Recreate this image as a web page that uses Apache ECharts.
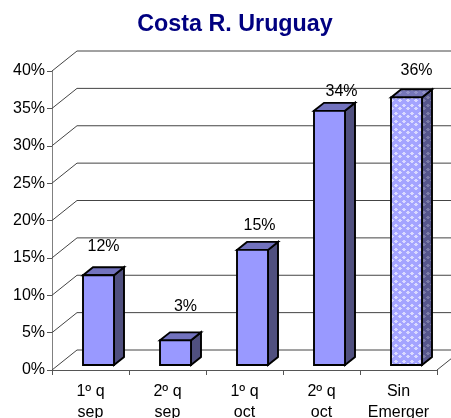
<!DOCTYPE html>
<html>
<head>
<meta charset="utf-8">
<style>html,body{margin:0;padding:0;background:#fff}#c{width:451px;height:418px}</style>
<script src="https://cdn.jsdelivr.net/npm/echarts@6/dist/echarts.min.js"></script>
</head>
<body>
<div id="c"></div>
<script>
var categories = ['1º q\nsep', '2º q\nsep', '1º q\noct', '2º q\noct', 'Sin\nEmerger'];
var values = [12, 3.3, 15.4, 34, 35.8];
var valueTicks = [0, 5, 10, 15, 20, 25, 30, 35, 40];
var labelDx = [5, 10, 7, 12, 10];
var labelDy = [-30, -35, -25, -20, -28];

var FONT = '"Liberation Sans", Arial, sans-serif';
var WALL_X = 25, WALL_Y = -20;
var BAR_X = 8, BAR_Y = -5, BAR_DX = 10, BAR_DY = -8, BAR_W = 31;

function tile(base, dot) {
  var c = document.createElement('canvas');
  c.width = 8; c.height = 8;
  var g = c.getContext('2d');
  g.fillStyle = base; g.fillRect(0, 0, 8, 8);
  g.fillStyle = dot;
  [[3,0,2,1],[2,1,4,1],[3,2,2,1],[7,4,1,1],[0,4,1,1],[6,4,1,1],[7,3,1,1],[7,5,1,1],[0,3,1,1],[0,5,1,1],[1,4,1,1]].forEach(function (r) {
    g.fillRect(r[0], r[1], r[2], r[3]);
  });
  return { image: c, repeat: 'repeat' };
}
var patFront = tile('#A4A4FF', '#DADAFF');
var patSide = tile('#56568C', '#7C7CA8');
var patTop = tile('#7676B8', '#9292C8');

var chart = echarts.init(document.getElementById('c'), null, { renderer: 'canvas' });
chart.setOption({
  animation: false,
  title: {
    text: 'Costa R. Uruguay', left: 230, top: 8, textAlign: 'center',
    textStyle: { fontFamily: FONT, fontSize: 23.3, fontWeight: 'bold', color: '#000080' }
  },
  grid: { left: 52, right: 14, top: 71, bottom: 48, outerBoundsMode: 'none' },
  xAxis: {
    type: 'category', data: categories,
    axisLine: { lineStyle: { color: '#555', width: 1 } },
    axisTick: { show: true, length: 5, lineStyle: { color: '#555' } },
    axisLabel: { fontFamily: FONT, fontSize: 16, color: '#000', margin: 11, lineHeight: 21, interval: 0 },
    splitLine: { show: false }
  },
  yAxis: {
    type: 'value', min: 0, max: 40, interval: 5,
    axisLine: { show: true, lineStyle: { color: '#808080', width: 1 } },
    axisTick: { show: true, length: 5, lineStyle: { color: '#555' } },
    axisLabel: { fontFamily: FONT, fontSize: 16, color: '#000', margin: 7, formatter: '{value}%' },
    splitLine: { show: false }
  },
  series: [
    {
      type: 'custom', silent: true, clip: false, z: 1,
      data: valueTicks.map(function (v) { return [0, v]; }),
      renderItem: function (params, api) {
        var y = api.coord([0, api.value(1)])[1];
        var cs = params.coordSys;
        var x0 = cs.x, x1 = cs.x + cs.width;
        var pts = [[x0, y], [x0 + WALL_X, y + WALL_Y], [x1 + WALL_X, y + WALL_Y]];
        var children = [{
          type: 'polyline', shape: { points: pts },
          style: { stroke: '#444', lineWidth: 1, fill: null }
        }];
        if (api.value(1) === 0) {
          children.push({
            type: 'line', shape: { x1: x1, y1: y, x2: x1 + WALL_X, y2: y + WALL_Y },
            style: { stroke: '#444', lineWidth: 1 }
          });
        }
        return { type: 'group', children: children };
      }
    },
    {
      type: 'custom', silent: true, clip: false, z: 3,
      data: values.map(function (v, i) { return [i, v]; }),
      renderItem: function (params, api) {
        var i = api.value(0), v = api.value(1);
        var top = api.coord([i, v]), base = api.coord([i, 0]);
        var l = top[0] + BAR_X - BAR_W / 2, r = l + BAR_W;
        var t = top[1] + BAR_Y, b = base[1] + BAR_Y;
        var last = i === values.length - 1;
        var edge = { stroke: '#000', lineWidth: 1.9, lineJoin: 'miter' };
        function poly(points, fill) {
          return { type: 'polygon', shape: { points: points }, style: Object.assign({ fill: fill }, edge) };
        }
        return {
          type: 'group',
          children: [
            poly([[r, t], [r + BAR_DX, t + BAR_DY], [r + BAR_DX, b + BAR_DY], [r, b]], last ? patSide : '#50507F'),
            poly([[l, t], [l + BAR_DX, t + BAR_DY], [r + BAR_DX, t + BAR_DY], [r, t]], last ? patTop : '#7272BE'),
            poly([[l, t], [r, t], [r, b], [l, b]], last ? patFront : '#9999FF'),
            {
              type: 'text',
              style: {
                x: (l + r) / 2 + labelDx[i], y: top[1] + BAR_Y + labelDy[i] + 1,
                text: Math.round(v) + '%', fill: '#000',
                font: '16px ' + FONT, align: 'center', verticalAlign: 'middle'
              }
            }
          ]
        };
      }
    }
  ]
});
</script>
</body>
</html>
